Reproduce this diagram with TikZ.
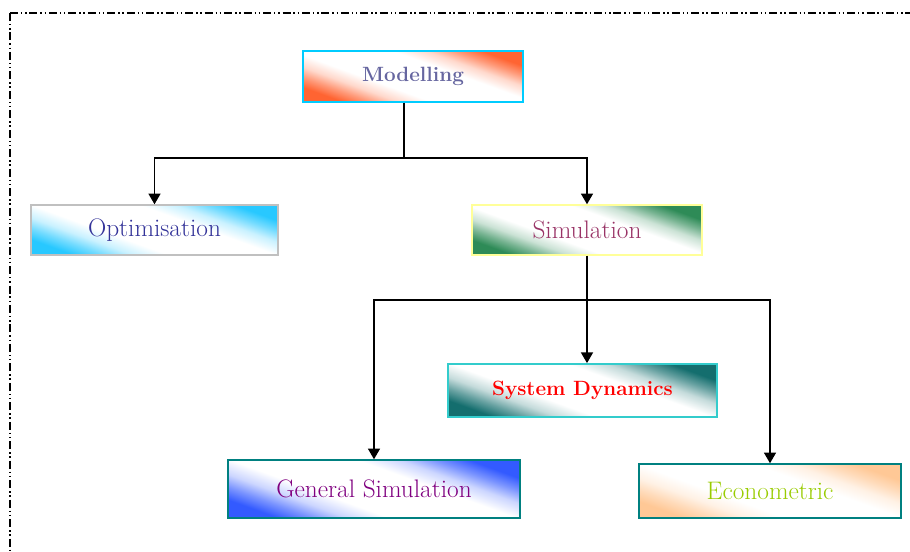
\documentclass[tikz,border=0pt]{standalone}
\usepackage{fontspec}
\usepackage{tikz}
\usetikzlibrary{arrows.meta}

\definecolor{modelfill}{RGB}{255,100,50}
\definecolor{modelline}{RGB}{0,204,255}
\definecolor{modeltext}{RGB}{102,102,160}
\definecolor{optimfill}{RGB}{40,200,255}
\definecolor{optimline}{RGB}{192,192,192}
\definecolor{optimtext}{RGB}{51,51,153}
\definecolor{simufill}{RGB}{46,139,87}
\definecolor{simuline}{RGB}{255,255,153}
\definecolor{simutext}{RGB}{153,51,102}
\definecolor{sdfill}{RGB}{20,110,110}
\definecolor{sdline}{RGB}{51,204,204}
\definecolor{gsfill}{RGB}{51,90,255}
\definecolor{gsline}{RGB}{0,128,128}
\definecolor{gstext}{RGB}{128,0,128}
\definecolor{econfill}{RGB}{255,200,150}
\definecolor{econtext}{RGB}{153,204,0}

% corner shadings: colour in two opposite corners, white band between
\newcommand{\mkshade}[2]{\pgfdeclarehorizontalshading{#1}{100bp}{color(0bp)=(#2); color(25bp)=(#2); color(30bp)=(#2!65!white); color(35bp)=(#2!25!white); color(41bp)=(white); color(59bp)=(white); color(65bp)=(#2!25!white); color(70bp)=(#2!65!white); color(75bp)=(#2); color(100bp)=(#2)}}
\mkshade{modelshade}{modelfill}
\mkshade{optimshade}{optimfill}
\mkshade{simushade}{simufill}
\mkshade{sdshade}{sdfill}
\mkshade{gsshade}{gsfill}
\mkshade{econshade}{econfill}

\begin{document}
\begin{tikzpicture}[x=0.75pt,y=-0.75pt,
  box/.style={draw,line width=1.1pt,shade,shading angle=70,inner sep=0pt,
    font=\fontsize{19}{22}\selectfont},
  boldbox/.style={box,font=\fontsize{15.5}{18}\selectfont\bfseries},
  conn/.style={line width=1.1pt,-{Triangle[width=9pt,length=8pt]}},
  frame/.style={line width=1.1pt,dash pattern=on 6pt off 2.2pt on 1.1pt off 2pt on 1.1pt off 2.2pt}]

\useasboundingbox (0,0) rectangle (910,552);

% frame
\draw[frame] (10,13) -- (910,13);
\draw[frame] (10,13) -- (10,552);

% boxes
\node [boldbox,draw=modelline,shading=modelshade,text=modeltext,
  minimum width=165pt,minimum height=38pt] (model) at (413,76.5) {Modelling};
\node [box,draw=optimline,shading=optimshade,text=optimtext,
  minimum width=185pt,minimum height=37.5pt] (optim) at (154.5,230) {Optimisation};
\node [box,draw=simuline,shading=simushade,text=simutext,
  minimum width=172.5pt,minimum height=37.5pt] (simu) at (587,230) {Simulation};
\node [boldbox,draw=sdline,shading=sdshade,text=red,
  minimum width=202pt,minimum height=40pt] (sd) at (582.5,390.5) {System Dynamics};
\node [box,draw=gsline,shading=gsshade,text=gstext,
  minimum width=219pt,minimum height=43.5pt] (gs) at (374,489) {General Simulation};
\node [box,draw=gsline,shading=econshade,text=econtext,
  minimum width=196.5pt,minimum height=40.5pt] (econ) at (770,491) {Econometric};

% connectors
\coordinate (j1) at (404,158);
\coordinate (j2) at (587,300);
\draw[line width=1.1pt] (model.south -| j1) -- (j1);
\draw[conn] (j1) -| (optim.north);
\draw[conn] (j1) -| (simu.north);
\draw[line width=1.1pt] (simu.south) -- (j2);
\draw[conn] (j2) -| (gs.north);
\draw[conn] (j2) -| (econ.north);
\draw[conn] (j2) -- (j2 |- sd.north);

\end{tikzpicture}
\end{document}
